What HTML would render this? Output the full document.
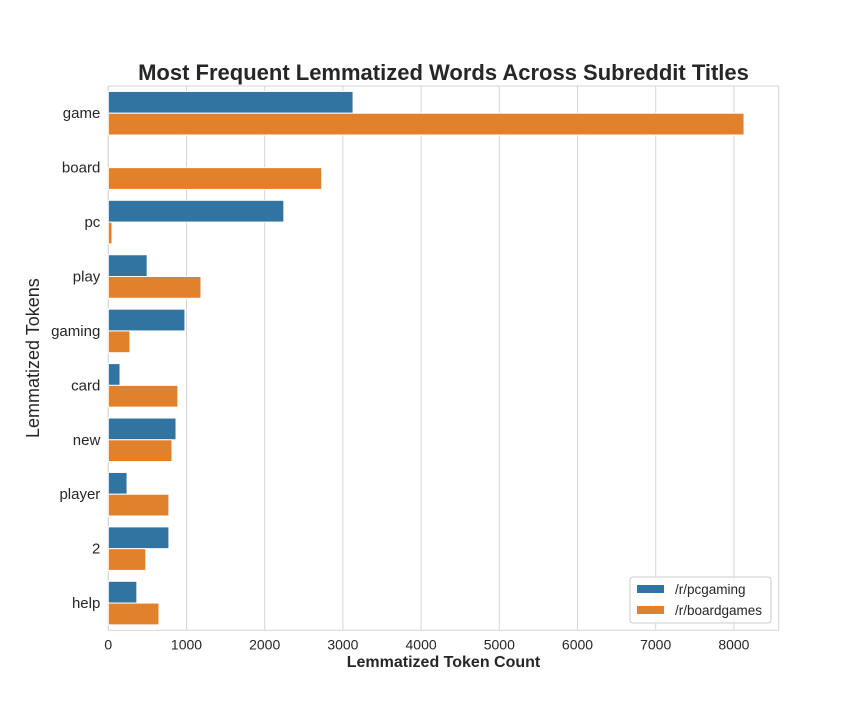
<!DOCTYPE html>
<html><head><meta charset="utf-8"><style>
body{margin:0;background:#fff;}
svg text{font-family:"Liberation Sans",Arial,sans-serif;}
</style></head><body>
<svg id="chart" width="864" height="720" xmlns="http://www.w3.org/2000/svg"></svg>
<script>
const categories=["game","board","pc","play","gaming","card","new","player","2","help"];
const pcgaming=[3130,0,2245,497,980,150,866,240,775,365];
const boardgames=[8130,2730,47,1185,277,890,815,775,480,648];
const xTicks=[0,1000,2000,3000,4000,5000,6000,7000,8000];
const seriesNames=["/r/pcgaming","/r/boardgames"];
const colors=["#3274a1","#e1812c"];

const NS="http://www.w3.org/2000/svg";
const svg=document.getElementById('chart');
const L=108.3,R=778.7,T=86,B=630.3;
const x=v=>L+v*0.0782;
const rowH=(B-T)/categories.length;
const y=i=>T+rowH*(i+0.5);
function mk(tag,attrs,parent){const e=document.createElementNS(NS,tag);for(const k in attrs)e.setAttribute(k,attrs[k]);(parent||svg).appendChild(e);return e;}

const grid=mk('g',{});


xTicks.forEach(t=>{
  const ln=mk('line',{x1:x(t),x2:x(t),y1:T,y2:B,stroke:'#d5d5d5','stroke-width':1},grid);
  
  
  const tx=mk('text',{x:x(t),y:B+19,'text-anchor':'middle','font-size':14,fill:'#262626'});
  tx.textContent=t;
  
  
});
const frame=mk('rect',{x:L,y:T,width:R-L,height:B-T,fill:'none',stroke:'#d5d5d5','stroke-width':1});



const bh=rowH*0.4;
categories.forEach((c,i)=>{
  [pcgaming,boardgames].forEach((s,k)=>{
    const r=mk('rect',{x:L,y:y(i)-bh+k*bh,width:x(s[i])-L,height:bh,fill:colors[k],stroke:'#fff','stroke-width':1});
    
    
  });
  const t=mk('text',{x:L-8,y:y(i)+5,'text-anchor':'end','font-size':15,fill:'#262626'});
  t.textContent=c;
  
  
});

const title=mk('text',{x:(L+R)/2,y:80,'text-anchor':'middle','font-size':22,'font-weight':'bold',fill:'#262626'});
title.textContent="Most Frequent Lemmatized Words Across Subreddit Titles";


const xl=mk('text',{x:(L+R)/2,y:667,'text-anchor':'middle','font-size':16,'font-weight':'bold',fill:'#262626'});
xl.textContent="Lemmatized Token Count";


const yl=mk('text',{x:0,y:0,'text-anchor':'middle','font-size':18,fill:'#262626',transform:`translate(39,${(T+B)/2}) rotate(-90)`});
yl.textContent="Lemmatized Tokens";



const lg=mk('g',{});


mk('rect',{x:630,y:577,width:141,height:46,rx:3,fill:'#fff','fill-opacity':0.85,stroke:'#cccccc'},lg);
seriesNames.forEach((n,k)=>{
  const sw=mk('rect',{x:637,y:585+k*21,width:27,height:8,fill:colors[k]},lg);
  
  
  const t=mk('text',{x:675,y:594+k*21,'font-size':13.5,fill:'#262626'},lg);
  t.textContent=n;
  
  
});
</script>
</body></html>
